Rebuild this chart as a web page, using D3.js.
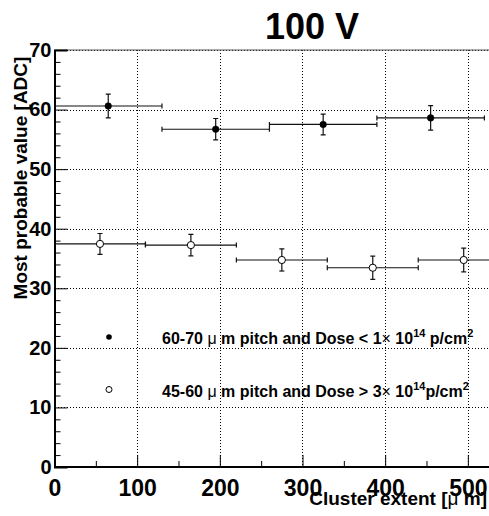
<!DOCTYPE html>
<html>
<head>
<meta charset="utf-8">
<script src="https://cdn.jsdelivr.net/npm/d3@7"></script>
<style>
  html, body { margin: 0; padding: 0; background: #fff; }
  svg { display: block; font-family: "Liberation Sans", Arial, sans-serif; }
</style>
</head>
<body>
<svg id="chart" width="489" height="516"></svg>
<script>
// Most probable value vs cluster extent, 100 V bias.
// Series A: 60-70 um pitch, low dose (filled markers)
const lowDoseX    = [65, 195, 325, 455];
const lowDoseXErr = [65, 65, 65, 65];
const lowDoseY    = [60.6, 56.7, 57.5, 58.6];
const lowDoseYErr = [2.0, 1.8, 1.75, 2.05];

// Series B: 45-60 um pitch, high dose (open markers)
const highDoseX    = [55, 165, 275, 385, 495];
const highDoseXErr = [55, 55, 55, 55, 55];
const highDoseY    = [37.45, 37.25, 34.75, 33.45, 34.75];
const highDoseYErr = [1.75, 1.8, 1.85, 1.95, 2.0];

const xTicks = [0, 100, 200, 300, 400, 500];
const xMinorTicks = [50, 150, 250, 350, 450];
const yTicks = [0, 10, 20, 30, 40, 50, 60, 70];
const yMinorTicks = d3.range(0, 71, 2).filter(v => v % 10 !== 0);

const svg = d3.select("#chart");
const padL = 54.5, padT = 50, padB = 467, padR = 489;

const x = d3.scaleLinear().domain([0, 525]).range([padL, 488.5]);
const y = d3.scaleLinear().domain([0, 70]).range([padB, padT]);

svg.append("defs").append("clipPath").attr("id", "plotClip")
  .append("rect").attr("x", padL).attr("y", padT - 5)
  .attr("width", padR - padL).attr("height", padB - padT + 10);

// dotted grid
const grid = svg.append("g").attr("stroke", "#000").attr("stroke-width", 1)
  .attr("stroke-dasharray", "1,2").attr("shape-rendering", "crispEdges");
grid.selectAll("line.gx").data(xTicks.slice(1)).join("line")
  .attr("x1", d => Math.round(x(d)) + 0.5).attr("x2", d => Math.round(x(d)) + 0.5)
  .attr("y1", padT).attr("y2", padB);
grid.selectAll("line.gy").data(yTicks.slice(1)).join("line")
  .attr("x1", padL).attr("x2", padR)
  .attr("y1", d => Math.round(y(d)) + 0.5).attr("y2", d => Math.round(y(d)) + 0.5);

// top frame line
svg.append("line").attr("x1", padL).attr("x2", padR).attr("y1", padT).attr("y2", padT)
  .attr("stroke", "#555").attr("stroke-width", 1);

// y axis: major ticks inward with labels, minor ticks inward
const yAxis = d3.axisLeft(y).tickValues(yTicks).tickSize(-13).tickPadding(3).tickFormat(d3.format("d"));
const gy = svg.append("g").attr("transform", `translate(${padL},0)`).call(yAxis);
gy.select(".domain").attr("stroke-width", 2);
gy.selectAll(".tick line").attr("stroke-width", 1);
gy.selectAll(".tick text").attr("font-size", 20).attr("font-weight", "bold")
  .attr("font-family", "Liberation Sans, Arial, sans-serif").attr("fill", "#000");
svg.append("g").attr("transform", `translate(${padL},0)`)
  .call(d3.axisLeft(y).tickValues(yMinorTicks).tickSize(-6).tickFormat(""))
  .select(".domain").remove();

// x axis
const xAxis = d3.axisBottom(x).tickValues(xTicks).tickSize(-12).tickPadding(13).tickFormat(d3.format("d"));
const gx = svg.append("g").attr("transform", `translate(0,${padB})`).call(xAxis);
gx.select(".domain").attr("stroke-width", 2).attr("d", `M${padL},0H${padR}`);
gx.selectAll(".tick text").attr("font-size", 23).attr("font-weight", "bold")
  .attr("font-family", "Liberation Sans, Arial, sans-serif").attr("fill", "#000");
svg.append("g").attr("transform", `translate(0,${padB})`)
  .call(d3.axisBottom(x).tickValues(xMinorTicks).tickSize(-6).tickFormat(""))
  .select(".domain").remove();

// data with error bars
const plot = svg.append("g").attr("clip-path", "url(#plotClip)");
function drawSeries(xs, xe, ys, ye, filled) {
  const pts = xs.map((v, i) => ({ x: v, xe: xe[i], y: ys[i], ye: ye[i] }));
  const g = plot.append("g").attr("stroke", "#111").attr("stroke-width", 1.2);
  // horizontal bars
  g.selectAll("line.h").data(pts).join("line")
    .attr("x1", d => x(d.x - d.xe)).attr("x2", d => x(d.x + d.xe))
    .attr("y1", d => y(d.y)).attr("y2", d => y(d.y));
  g.selectAll("line.hl").data(pts).join("line")
    .attr("x1", d => x(d.x - d.xe)).attr("x2", d => x(d.x - d.xe))
    .attr("y1", d => y(d.y) - 2.5).attr("y2", d => y(d.y) + 2.5);
  g.selectAll("line.hr").data(pts).join("line")
    .attr("x1", d => x(d.x + d.xe)).attr("x2", d => x(d.x + d.xe))
    .attr("y1", d => y(d.y) - 2.5).attr("y2", d => y(d.y) + 2.5);
  // vertical bars
  g.selectAll("line.v").data(pts).join("line")
    .attr("x1", d => x(d.x)).attr("x2", d => x(d.x))
    .attr("y1", d => y(d.y - d.ye)).attr("y2", d => y(d.y + d.ye));
  g.selectAll("line.vt").data(pts).join("line")
    .attr("x1", d => x(d.x) - 2.5).attr("x2", d => x(d.x) + 2.5)
    .attr("y1", d => y(d.y + d.ye)).attr("y2", d => y(d.y + d.ye));
  g.selectAll("line.vb").data(pts).join("line")
    .attr("x1", d => x(d.x) - 2.5).attr("x2", d => x(d.x) + 2.5)
    .attr("y1", d => y(d.y - d.ye)).attr("y2", d => y(d.y - d.ye));
  g.selectAll("circle").data(pts).join("circle")
    .attr("cx", d => x(d.x)).attr("cy", d => y(d.y))
    .attr("r", filled ? 3.3 : 3.6)
    .attr("fill", filled ? "#000" : "#fff")
    .attr("stroke", "#000").attr("stroke-width", filled ? 0.5 : 1);
}
drawSeries(lowDoseX, lowDoseXErr, lowDoseY, lowDoseYErr, true);
drawSeries(highDoseX, highDoseXErr, highDoseY, highDoseYErr, false);

// title
svg.append("text").attr("x", 312).attr("y", 39).attr("text-anchor", "middle")
  .attr("font-size", 36).attr("font-weight", "bold").text("100 V");

// axis titles
const xt = svg.append("text").attr("x", 487).attr("y", 505).attr("text-anchor", "end")
  .attr("font-size", 19).attr("font-weight", "bold");
xt.append("tspan").text("Cluster extent [");
xt.append("tspan").attr("font-weight", "normal").text("\u03BC");
xt.append("tspan").text(" m]");

const yt = svg.append("text").attr("transform", "translate(27,178) rotate(-90)")
  .attr("text-anchor", "middle").attr("font-size", 19).attr("font-weight", "bold");
yt.append("tspan").text("Most probable value [ADC]");

// legend
const legend = svg.append("g").attr("font-size", 16).attr("font-weight", "bold");
legend.append("circle").attr("cx", 109).attr("cy", 337).attr("r", 2.8).attr("fill", "#000");
legend.append("circle").attr("cx", 109).attr("cy", 389.5).attr("r", 3).attr("fill", "#fff")
  .attr("stroke", "#000").attr("stroke-width", 1);

function legendLine(yb, parts) {
  const t = legend.append("text").attr("x", 162).attr("y", yb);
  parts.forEach(p => {
    const s = t.append("tspan").text(p.t);
    if (p.n) s.attr("font-weight", "normal");
    if (p.sup) s.attr("font-size", 11).attr("dy", -6.5);
    if (p.down) s.attr("dy", 6.5);
  });
}
legendLine(343.5, [
  { t: "60-70 " }, { t: "\u03BC", n: true }, { t: " m pitch and Dose < 1" },
  { t: "\u00D7", n: true }, { t: " 10" }, { t: "14", sup: true },
  { t: " p/cm", down: true }, { t: "2", sup: true }
]);
legendLine(396.5, [
  { t: "45-60 " }, { t: "\u03BC", n: true }, { t: " m pitch and Dose > 3" },
  { t: "\u00D7", n: true }, { t: " 10" }, { t: "14", sup: true },
  { t: "p/cm", down: true }, { t: "2", sup: true }
]);
</script>
</body>
</html>
